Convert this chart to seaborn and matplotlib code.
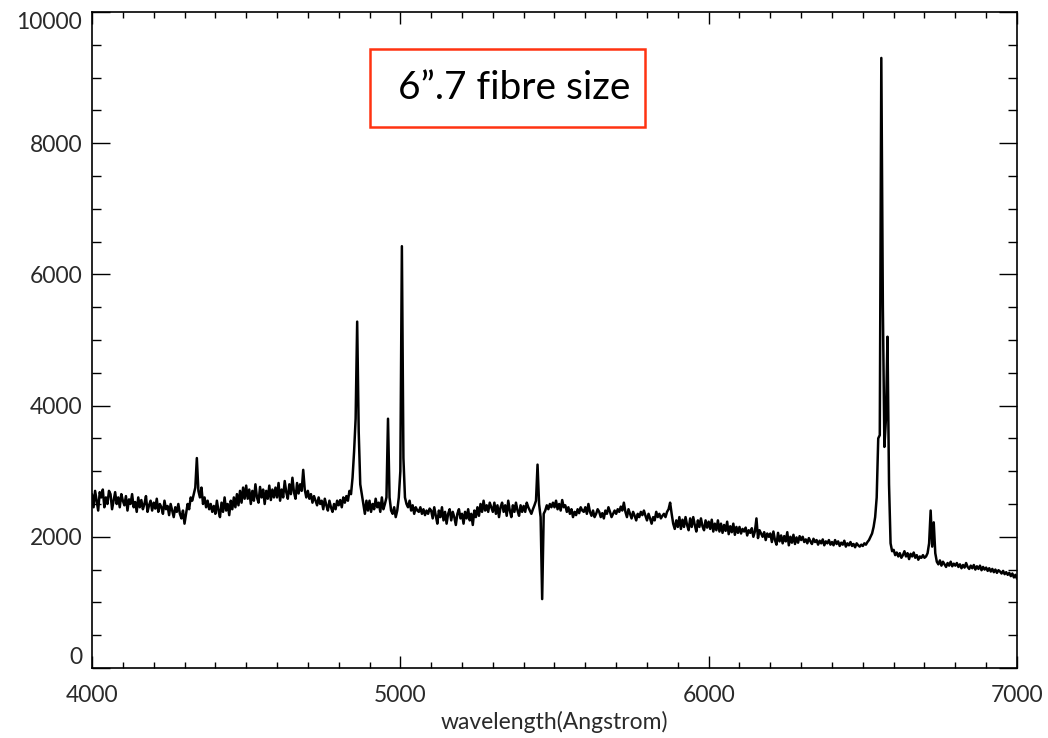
import numpy as np
import matplotlib
matplotlib.use("Agg")
import matplotlib.pyplot as plt
from matplotlib.ticker import MultipleLocator
from matplotlib.patches import Rectangle
import seaborn as sns

# Spectrum sampled every 5 Angstrom from 4000 to 7000
wave_start, wave_stop, wave_step = 4000, 7000, 5
flux = [
    # 4000-4095
    2650, 2450, 2700, 2550, 2400, 2680, 2600, 2720, 2450, 2600, 2500, 2700, 2650, 2420, 2550, 2680, 2500, 2600, 2450, 2650,
    # 4100-4195
    2550, 2480, 2620, 2400, 2570, 2500, 2650, 2450, 2530, 2380, 2600, 2450, 2560, 2420, 2500, 2620, 2380, 2480, 2550, 2400,
    # 4200-4295
    2520, 2430, 2580, 2380, 2500, 2450, 2350, 2550, 2420, 2470, 2330, 2500, 2400, 2300, 2450, 2380, 2500, 2350, 2280, 2400,
    # 4300-4395 (H gamma)
    2200, 2350, 2500, 2420, 2600, 2550, 2650, 2750, 3200, 2700, 2600, 2750, 2500, 2600, 2450, 2550, 2420, 2500, 2380, 2470,
    # 4400-4495
    2350, 2550, 2400, 2300, 2520, 2380, 2600, 2400, 2500, 2330, 2550, 2420, 2600, 2450, 2650, 2480, 2700, 2520, 2750, 2580,
    # 4500-4595
    2780, 2580, 2720, 2500, 2700, 2550, 2800, 2600, 2520, 2760, 2600, 2720, 2500, 2700, 2580, 2780, 2560, 2720, 2600, 2750,
    # 4600-4695 (He II)
    2600, 2820, 2550, 2720, 2600, 2850, 2680, 2580, 2800, 2650, 2900, 2680, 2580, 2820, 2660, 2800, 2700, 3020, 2720, 2600,
    # 4700-4795
    2700, 2580, 2650, 2520, 2620, 2550, 2480, 2600, 2500, 2550, 2420, 2580, 2480, 2400, 2550, 2450, 2380, 2500, 2420, 2550,
    # 4800-4895 (H beta)
    2480, 2560, 2450, 2600, 2520, 2620, 2550, 2700, 2650, 2900, 3300, 3800, 5280, 3600, 2800, 2650, 2500, 2350, 2550, 2400,
    # 4900-4995 ([O III] 4959)
    2550, 2380, 2500, 2420, 2580, 2450, 2520, 2380, 2600, 2420, 2500, 2600, 3800, 2600, 2400, 2350, 2450, 2300, 2400, 2600,
    # 5000-5095 ([O III] 5007)
    3000, 6430, 3200, 2600, 2500, 2450, 2550, 2400, 2480, 2350, 2450, 2400, 2380, 2450, 2350, 2420, 2330, 2400, 2350, 2430,
    # 5100-5195
    2400, 2280, 2450, 2320, 2200, 2400, 2300, 2450, 2250, 2380, 2200, 2350, 2420, 2250, 2380, 2300, 2180, 2350, 2420, 2280,
    # 5200-5295
    2350, 2200, 2380, 2280, 2420, 2250, 2350, 2180, 2400, 2300, 2450, 2320, 2500, 2380, 2550, 2400, 2480, 2380, 2520, 2450,
    # 5300-5395
    2380, 2520, 2350, 2480, 2300, 2450, 2520, 2380, 2480, 2320, 2550, 2400, 2300, 2480, 2380, 2520, 2400, 2320, 2480, 2380,
    # 5400-5495 (sky residual)
    2470, 2380, 2520, 2450, 2400, 2350, 2420, 2480, 2550, 3100, 2500, 2300, 1050, 2350, 2400, 2480, 2420, 2500, 2450, 2520,
    # 5500-5595
    2450, 2550, 2420, 2500, 2400, 2560, 2450, 2480, 2380, 2450, 2350, 2420, 2300, 2380, 2330, 2420, 2360, 2450, 2400, 2380,
    # 5600-5695
    2450, 2350, 2500, 2380, 2320, 2400, 2300, 2350, 2420, 2380, 2300, 2360, 2280, 2400, 2350, 2450, 2380, 2300, 2350, 2400,
    # 5700-5795
    2350, 2420, 2380, 2460, 2400, 2520, 2380, 2300, 2420, 2350, 2280, 2380, 2320, 2250, 2350, 2300, 2380, 2330, 2400, 2320,
    # 5800-5895 (He I / Na D)
    2250, 2350, 2280, 2200, 2300, 2250, 2380, 2300, 2350, 2280, 2320, 2350, 2300, 2380, 2420, 2520, 2350, 2200, 2120, 2250,
    # 5900-5995
    2150, 2300, 2120, 2260, 2150, 2300, 2180, 2100, 2280, 2150, 2300, 2180, 2080, 2250, 2150, 2280, 2160, 2100, 2250, 2140,
    # 6000-6095
    2230, 2120, 2260, 2080, 2200, 2100, 2250, 2080, 2200, 2060, 2180, 2090, 2230, 2040, 2160, 2070, 2200, 2030, 2150, 2060,
    # 6100-6195
    2150, 2050, 2120, 2080, 2140, 2020, 2100, 2060, 2130, 2000, 2080, 2280, 1980, 2100, 2050, 2000, 2070, 1950, 2050, 2000,
    # 6200-6295
    2050, 1920, 2080, 1950, 1880, 2060, 1930, 2020, 1900, 2010, 1930, 2070, 1870, 2000, 1910, 2030, 1890, 1990, 1910, 2010,
    # 6300-6395
    1950, 2000, 1920, 1960, 1900, 1980, 1930, 1890, 1970, 1920, 1950, 1880, 1940, 1900, 1960, 1870, 1930, 1900, 1950, 1880,
    # 6400-6495
    1920, 1870, 1950, 1890, 1930, 1860, 1910, 1880, 1940, 1850, 1900, 1870, 1920, 1860, 1890, 1840, 1900, 1870, 1850, 1880,
    # 6500-6595 (H alpha + [N II])
    1860, 1900, 1880, 1920, 1950, 2000, 2050, 2150, 2300, 2600, 3500, 3550, 9300, 5500, 3370, 3800, 5050, 2800, 1900, 1780,
    # 6600-6695
    1800, 1720, 1760, 1700, 1750, 1680, 1720, 1780, 1700, 1750, 1660, 1740, 1700, 1760, 1680, 1720, 1650, 1700, 1680, 1720,
    # 6700-6795 ([S II])
    1680, 1700, 1750, 1900, 2400, 1850, 2220, 1750, 1620, 1580, 1640, 1560, 1620, 1580, 1540, 1600, 1560, 1620, 1550, 1590,
    # 6800-6895
    1560, 1600, 1540, 1580, 1520, 1570, 1530, 1600, 1540, 1510, 1560, 1520, 1570, 1500, 1550, 1510, 1560, 1490, 1540, 1500,
    # 6900-6995
    1530, 1480, 1520, 1470, 1510, 1460, 1500, 1450, 1490, 1470, 1440, 1480, 1430, 1460, 1420, 1450, 1400, 1440, 1380, 1420,
    # 7000
    1360,
]
wave = np.arange(wave_start, wave_stop + wave_step, wave_step)

x_ticks = [4000, 5000, 6000, 7000]
y_ticks = [0, 2000, 4000, 6000, 8000, 10000]
x_label = "wavelength(Angstrom)"
box_text = "6\u201d.7 fibre size"

sns.set_style("ticks")
plt.rcParams["font.family"] = ["Lato", "DejaVu Sans"]

fig = plt.figure(figsize=(10.48, 7.38), dpi=100)
ax = fig.add_axes([0.0878, 0.0949, 0.8826, 0.8888])

sns.lineplot(x=wave, y=flux, ax=ax, color="black", linewidth=1.8, estimator=None)

ax.set_xlim(4000, 7000)
ax.set_ylim(0, 10000)
ax.set_xticks(x_ticks)
ax.set_yticks(y_ticks)
ax.xaxis.set_minor_locator(MultipleLocator(100))
ax.yaxis.set_minor_locator(MultipleLocator(500))

label_font = dict(fontsize=16.5, fontweight="normal", color="#2a2a2a")
ax.set_xticklabels([str(v) for v in x_ticks], **label_font)
ax.set_yticklabels([str(v) for v in y_ticks], **label_font)
ax.set_xlabel(x_label, labelpad=4, **label_font)
ax.set_ylabel("")

ax.tick_params(axis="both", which="both", direction="in", top=True, right=True,
               color="black", width=1.0)
ax.tick_params(axis="x", which="major", length=8.5, pad=12)
ax.tick_params(axis="x", which="minor", length=4.5)
ax.tick_params(axis="y", which="major", length=13, pad=7)
ax.tick_params(axis="y", which="minor", length=6.5)

# keep the end labels of the y axis inside the frame
ylabels = ax.get_yticklabels()
ylabels[0].set_va("bottom")
ylabels[-1].set_va("top")

for side in ["left", "right", "top", "bottom"]:
    ax.spines[side].set_visible(True)
    ax.spines[side].set_color("black")
    ax.spines[side].set_linewidth(1.2)

# annotation box with the fibre size
ax.add_patch(Rectangle((0.3005, 0.8247), 0.2973, 0.1189, transform=ax.transAxes,
                       facecolor="white", edgecolor="#ff3311", linewidth=1.8, zorder=5))
ax.text(0.4562, 0.884, box_text, transform=ax.transAxes, ha="center", va="center",
        fontsize=28, color="black", zorder=6)

fig.savefig("out.png", dpi=100)
